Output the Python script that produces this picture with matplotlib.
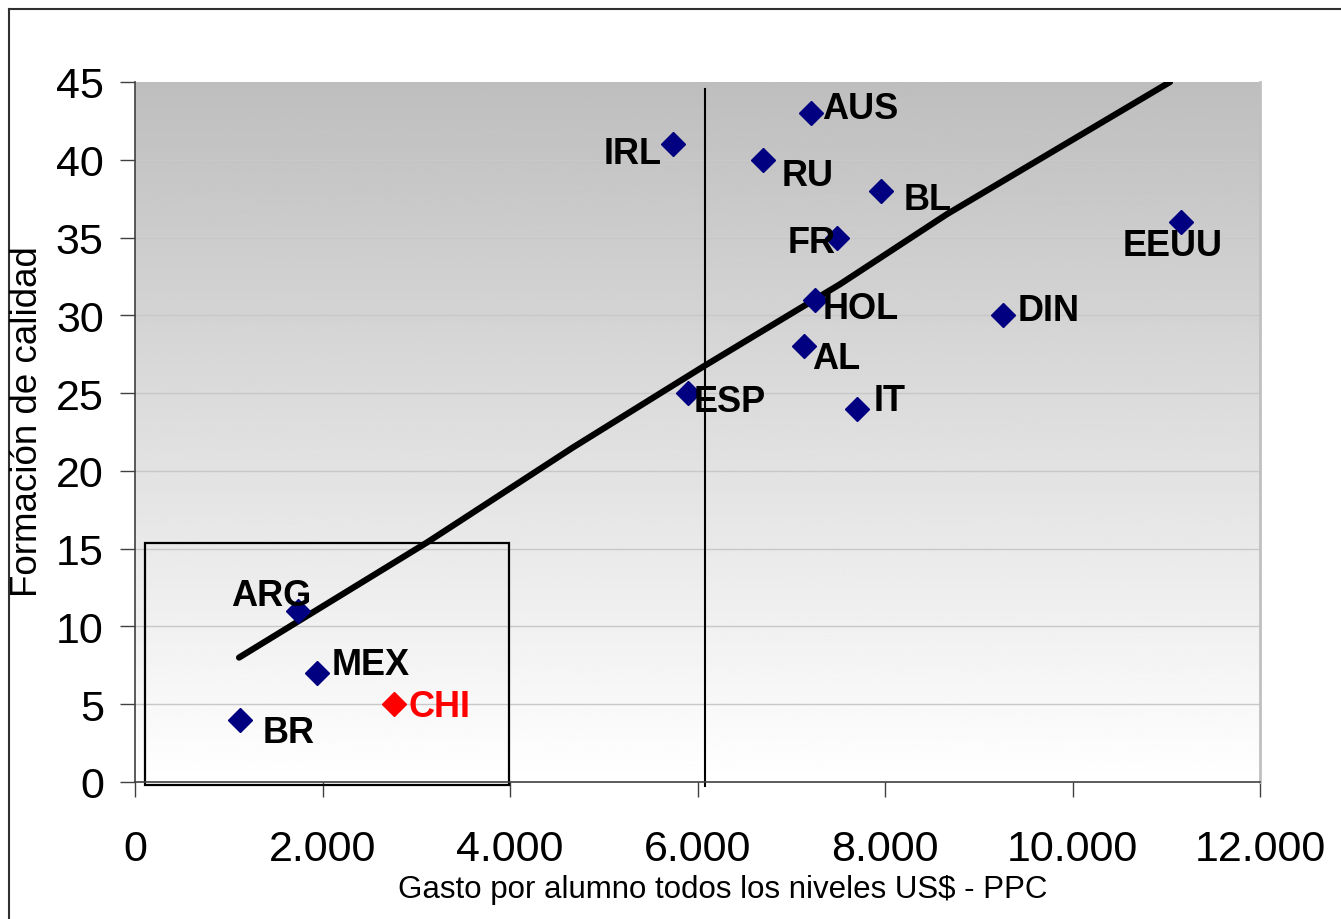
import numpy as np
import matplotlib
matplotlib.use("Agg")
import matplotlib.pyplot as plt
from matplotlib.patches import Rectangle
from matplotlib.lines import Line2D
from matplotlib.ticker import FuncFormatter

plt.rcParams['font.family'] = ['Liberation Sans', 'DejaVu Sans']

# ---- data ----
countries = ["AUS", "IRL", "RU", "BL", "FR", "EEUU", "HOL", "DIN", "AL", "ESP", "IT",
             "ARG", "MEX", "BR", "CHI"]
gasto = [7210, 5740, 6700, 7960, 7490, 11160, 7250, 9260, 7140, 5900, 7700,
         1740, 1940, 1120, 2760]
calidad = [43, 41, 40, 38, 35, 36, 31, 30, 28, 25, 24, 11, 7, 4, 5]
highlight = ["CHI"]

trend_x = [1110, 3115, 4670, 6060, 7520, 8660, 11040]
trend_y = [8.0, 15.4, 21.5, 26.7, 32.0, 36.5, 45.0]

ref_gasto = 6080          # vertical reference line
box_x = [110, 3990]       # highlighted region (x range)
box_y = [-0.2, 15.35]     # highlighted region (y range)

x_ticks = [0, 2000, 4000, 6000, 8000, 10000, 12000]
y_ticks = [0, 5, 10, 15, 20, 25, 30, 35, 40, 45]
x_label = "Gasto por alumno todos los niveles US$ - PPC"
y_label = "Formación de calidad"

# label layout: (dx px, dy px, ha)
label_layout = {
    "AUS": (11, 5, "left"), "IRL": (-11, -9, "right"), "RU": (18, -16, "left"),
    "BL": (22, -9, "left"), "FR": (-2, -5, "right"), "EEUU": (-9, -23, "center"),
    "HOL": (8, -9, "left"), "DIN": (15, 5, "left"), "AL": (8, -12, "left"),
    "ESP": (6, -8, "left"), "IT": (17, 8, "left"), "ARG": (13, 15, "right"),
    "MEX": (15, 9, "left"), "BR": (23, -13, "left"), "CHI": (15, -2, "left"),
}

# ---- figure ----
W, H = 1341, 920
fig = plt.figure(figsize=(W / 100, H / 100), dpi=100)
fig.patch.set_facecolor("white")
ax = fig.add_axes([135 / W, 1 - 783 / H, (1260 - 135) / W, (783 - 83) / H])

# gradient background (gray at top, white at bottom)
grad = np.linspace(0.745, 1.0, 256).reshape(-1, 1)
ax.imshow(grad, extent=[0, 12000, 0, 45], aspect="auto", cmap="gray",
          vmin=0, vmax=1, zorder=0, origin="upper")
ax.set_xlim(0, 12000)
ax.set_ylim(0, 45)

for yv in y_ticks[1:-1]:
    ax.axhline(yv, color="#c8c8c8", lw=1.0, zorder=1)

# box and reference line
ax.add_patch(Rectangle((box_x[0], box_y[0]), box_x[1] - box_x[0], box_y[1] - box_y[0],
                       fill=False, ec="black", lw=1.6, zorder=2, clip_on=False))
ax.plot([ref_gasto, ref_gasto], [-0.25, 44.55], color="black", lw=1.5, zorder=2,
        clip_on=False)

# trend line
ax.plot(trend_x, trend_y, color="black", lw=4.5, solid_capstyle="round",
        solid_joinstyle="round", zorder=3)

# points
for c, gx, cy in zip(countries, gasto, calidad):
    col = "#ff0000" if c in highlight else "#000080"
    ax.plot(gx, cy, marker="D", ms=12.5, color=col, mec=col, zorder=4, ls="none")
    dx, dy, ha = label_layout[c]
    ax.annotate(c, (gx, cy), xytext=(dx, dy), textcoords="offset pixels",
                ha=ha, va="center", fontsize=26, fontweight="bold",
                color=("#ff0000" if c in highlight else "black"), zorder=5)

# axes styling
ax.spines["top"].set_visible(False)
ax.spines["right"].set_color("#c0c0c0")
ax.spines["right"].set_linewidth(2)
ax.spines["left"].set_color("#404040")
ax.spines["bottom"].set_color("#404040")
ax.spines["left"].set_linewidth(1.2)
ax.spines["bottom"].set_linewidth(1.2)

ax.set_xticks(x_ticks)
ax.set_yticks(y_ticks)
ax.xaxis.set_major_formatter(FuncFormatter(lambda v, p: f"{int(v):,}".replace(",", ".")))
ax.yaxis.set_major_formatter(FuncFormatter(lambda v, p: f"{int(v)}"))
ax.tick_params(axis="both", direction="out", length=10.5, width=1, color="#404040",
               labelsize=31)
ax.tick_params(axis="y", pad=12)
ax.tick_params(axis="x", pad=23)

fig.text(723 / W, 1 - 890 / H, x_label, ha="center", va="center", fontsize=22.5)
fig.text(28 / W, 1 - 422 / H, y_label, ha="center", va="center", fontsize=26.5,
         rotation=90)

# outer frame
fig.add_artist(Line2D([9 / W, 9 / W], [0, 1 - 10 / H], color="#303030", lw=1.5,
                      transform=fig.transFigure))
fig.add_artist(Line2D([9 / W, 1], [1 - 10 / H, 1 - 10 / H], color="#303030", lw=1.5,
                      transform=fig.transFigure))

fig.savefig("out.png", dpi=100)
